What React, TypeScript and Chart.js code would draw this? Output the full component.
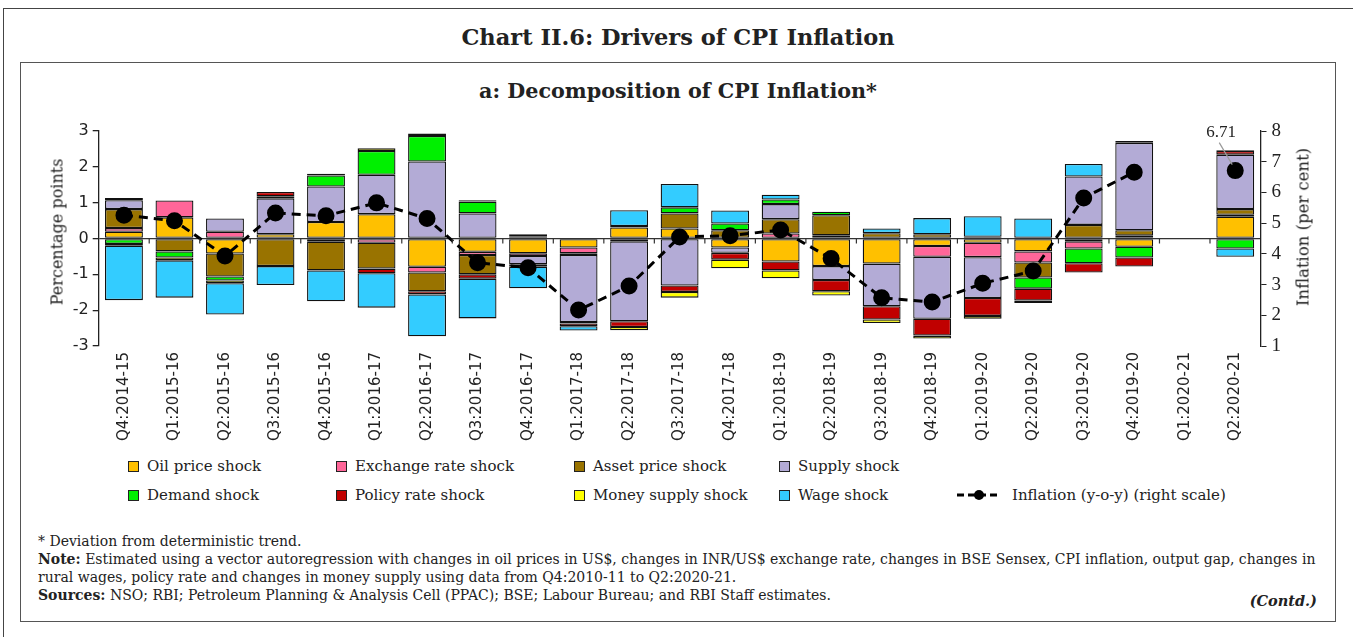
import React, { useEffect, useRef } from "react";
import { Chart, registerables } from "chart.js";

Chart.register(...registerables);

const categories = [
  "Q4:2014-15", "Q1:2015-16", "Q2:2015-16", "Q3:2015-16", "Q4:2015-16",
  "Q1:2016-17", "Q2:2016-17", "Q3:2016-17", "Q4:2016-17", "Q1:2017-18",
  "Q2:2017-18", "Q3:2017-18", "Q4:2017-18", "Q1:2018-19", "Q2:2018-19",
  "Q3:2018-19", "Q4:2018-19", "Q1:2019-20", "Q2:2019-20", "Q3:2019-20",
  "Q4:2019-20", "Q1:2020-21", "Q2:2020-21",
];

const oilShock = [0.19, 0.59, -0.42, 0.12, 0.46, 0.68, -0.79, -0.37, -0.41, -0.25, 0.31, 0.28, -0.25, -0.64, -0.77, -0.70, -0.21, -0.12, -0.36, -0.08, -0.23, null, 0.61];
const exchangeShock = [0.10, 0.47, 0.19, 0, -0.09, -0.12, -0.16, -0.09, -0.08, -0.16, -0.08, 0, 0, 0.14, 0.09, 0, -0.30, -0.40, -0.31, -0.20, 0.08, null, 0.05];
const assetShock = [0.53, -0.36, -0.64, -0.77, -0.80, -0.72, -0.52, -0.54, 0, -0.05, 0.04, 0.42, 0.23, 0.40, 0.56, 0.15, 0.12, 0.05, -0.42, 0.38, 0.15, null, 0.16];
const supplyShock = [0.25, 0, 0.37, 1.00, 0.99, 1.10, 2.15, 0.70, -0.23, -1.87, -2.23, -1.31, -0.15, 0.42, -0.39, -1.19, -1.73, -1.14, 0, 1.35, 2.44, null, 1.52];
const demandShock = [-0.15, -0.17, -0.11, 0.06, 0.31, 0.66, 0.71, 0.33, 0.06, -0.04, 0, 0.17, 0.19, 0.13, 0.10, 0, 0, 0, -0.31, -0.41, -0.30, null, -0.28];
const policyShock = [0.06, 0, 0, 0.12, 0, -0.13, -0.09, -0.12, -0.07, -0.08, -0.16, -0.18, -0.19, -0.25, -0.31, -0.37, -0.47, -0.50, -0.33, -0.26, -0.25, null, 0.10];
const moneyShock = [-0.05, -0.08, -0.08, 0, 0.05, 0.08, 0.07, 0.04, 0.06, 0, -0.09, -0.16, -0.24, -0.22, -0.12, -0.10, -0.08, -0.08, -0.07, 0, 0.05, null, 0.02];
const wageShock = [-1.52, -1.04, -0.87, -0.53, -0.86, -0.96, -1.17, -1.11, -0.60, -0.12, 0.44, 0.65, 0.36, 0.13, 0, 0.13, 0.45, 0.57, 0.56, 0.35, 0, null, -0.23];
const inflation = [5.26, 5.08, 3.93, 5.33, 5.24, 5.66, 5.15, 3.71, 3.55, 2.17, 2.95, 4.55, 4.59, 4.78, 3.85, 2.57, 2.43, 3.04, 3.44, 5.82, 6.66, null, 6.71];

const seriesLabels = [
  "Oil price shock", "Exchange rate shock", "Asset price shock", "Supply shock",
  "Demand shock", "Policy rate shock", "Money supply shock", "Wage shock",
];
const inflationLabel = "Inflation (y-o-y) (right scale)";
const leftTicks = [-3, -2, -1, 0, 1, 2, 3];
const rightTicks = [1, 2, 3, 4, 5, 6, 7, 8];

const seriesValues = [oilShock, exchangeShock, assetShock, supplyShock, demandShock, policyShock, moneyShock, wageShock];
const seriesColors = ["#FFC000", "#FF6699", "#997300", "#B3ABD6", "#00F000", "#C00000", "#FFFF00", "#33CCFF"];

const SERIF = "'DejaVu Serif', serif";

const boundaryTicks = {
  id: "boundaryTicks",
  afterDatasetsDraw(chart: any) {
    const xs = chart.scales.x;
    const ys = chart.scales.y;
    const y0 = ys.getPixelForValue(0);
    const ctx = chart.ctx;
    ctx.save();
    ctx.strokeStyle = "#333";
    ctx.lineWidth = 1.2;
    for (let i = 1; i < categories.length; i++) {
      const px = (xs.getPixelForValue(i - 1) + xs.getPixelForValue(i)) / 2;
      ctx.beginPath();
      ctx.moveTo(px, y0);
      ctx.lineTo(px, y0 + 5);
      ctx.stroke();
    }
    ctx.restore();
  },
};

const lastLabel = {
  id: "lastLabel",
  afterDatasetsDraw(chart: any) {
    const idx = chart.data.datasets.length - 1;
    const meta = chart.getDatasetMeta(idx);
    const last = inflation.length - 1;
    const pt = meta.data[last];
    if (!pt) return;
    const ctx = chart.ctx;
    ctx.save();
    ctx.strokeStyle = "#999";
    ctx.lineWidth = 1.2;
    ctx.beginPath();
    ctx.moveTo(pt.x - 16, pt.y - 28);
    ctx.lineTo(pt.x - 3, pt.y - 6);
    ctx.stroke();
    ctx.fillStyle = "#222";
    ctx.font = "17px 'Liberation Serif', serif";
    ctx.textAlign = "center";
    ctx.textBaseline = "middle";
    ctx.fillText(String(inflation[last]), pt.x - 14, pt.y - 38);
    ctx.restore();
  },
};

function ChartCanvas() {
  const ref = useRef<HTMLCanvasElement | null>(null);
  useEffect(() => {
    if (!ref.current) return;
    const barSets = seriesValues.map((vals, i) => ({
      type: "bar" as const,
      label: seriesLabels[i],
      data: vals.map((v) => (v === 0 ? null : v)),
      backgroundColor: seriesColors[i],
      borderColor: "#111",
      borderWidth: 1.3,
      borderSkipped: false,
      barPercentage: 0.75,
      categoryPercentage: 1,
      yAxisID: "y",
      order: 1,
    }));
    const lineSet = {
      type: "line" as const,
      label: inflationLabel,
      data: inflation,
      yAxisID: "y1",
      borderColor: "#000",
      backgroundColor: "#000",
      borderWidth: 3,
      borderDash: [9, 6],
      pointRadius: 7,
      pointHoverRadius: 7,
      pointBackgroundColor: "#000",
      pointBorderColor: "#000",
      spanGaps: false,
      tension: 0,
      order: 0,
    };
    const chart = new Chart(ref.current, {
      type: "bar",
      data: { labels: categories, datasets: [...barSets, lineSet] as any },
      options: {
        animation: false,
        responsive: false,
        maintainAspectRatio: false,
        layout: { padding: { top: 21, left: 0, right: 0, bottom: 0 } },
        plugins: { legend: { display: false }, tooltip: { enabled: false }, title: { display: false } },
        scales: {
          x: {
            stacked: true,
            grid: { display: false, drawTicks: false },
            border: { display: false },
            ticks: {
              autoSkip: false,
              minRotation: 90,
              maxRotation: 90,
              padding: 6,
              color: "#222",
              font: { family: "'DejaVu Sans', sans-serif", size: 15 },
            },
            afterFit(s: any) { s.height = 104; },
          },
          y: {
            stacked: true,
            position: "left",
            min: leftTicks[0],
            max: leftTicks[leftTicks.length - 1],
            afterBuildTicks(s: any) { s.ticks = leftTicks.map((v) => ({ value: v })); },
            ticks: { color: "#222", padding: 4, font: { family: "'DejaVu Sans', sans-serif", size: 16 } },
            grid: {
              color: (c: any) => (c.tick && c.tick.value === 0 ? "#333" : "rgba(0,0,0,0)"),
              lineWidth: 1.3,
              tickColor: "#222",
              tickLength: 6,
              drawTicks: true,
            },
            border: { display: true, color: "#222", width: 1.3 },
            afterFit(s: any) { s.width = 78.7; },
          },
          y1: {
            position: "right",
            stacked: false,
            min: rightTicks[0],
            max: rightTicks[rightTicks.length - 1],
            afterBuildTicks(s: any) { s.ticks = rightTicks.map((v) => ({ value: v })); },
            ticks: { color: "#222", padding: 5, font: { family: "'Liberation Serif', serif", size: 19 } },
            grid: { drawOnChartArea: false, tickColor: "#222", tickLength: 6, drawTicks: true },
            border: { display: true, color: "#222", width: 1.3 },
            afterFit(s: any) { s.width = 59.5; },
          },
        },
      } as any,
      plugins: [boundaryTicks, lastLabel],
    });
    return () => chart.destroy();
  }, []);
  return <canvas ref={ref} width={1300} height={340} style={{ position: "absolute", left: 20, top: 110, width: 1300, height: 340 }} />;
}

function LegendBox({ color, x, y, label }: { color: string; x: number; y: number; label: string }) {
  return (
    <div style={{ position: "absolute", left: x, top: y - 10, height: 20, display: "flex", alignItems: "center", whiteSpace: "nowrap" }}>
      <div style={{ width: 9, height: 9, background: color, border: "1px solid #222", marginRight: 8 }} />
      <span style={{ fontFamily: SERIF, fontSize: 15, color: "#222" }}>{label}</span>
    </div>
  );
}

export default function App() {
  const colX = [128, 336, 574, 779];
  const rowY = [466, 495];
  return (
    <div style={{ position: "absolute", left: 0, top: 0, width: 1353, height: 637, background: "#fff", overflow: "hidden" }}>
      <div style={{ position: "absolute", left: 3, top: 8, width: 1400, height: 700, border: "1.5px solid #444" }} />
      <div style={{ position: "absolute", left: 0, top: 21, width: 1356, textAlign: "center", fontFamily: SERIF, fontWeight: "bold", fontSize: 22.5, color: "#222", lineHeight: "32px" }}>
        Chart II.6: Drivers of CPI Inflation
      </div>
      <div style={{ position: "absolute", left: 20, top: 62, width: 1314, height: 558, border: "1.5px solid #555" }} />
      <div style={{ position: "absolute", left: 0, top: 77, width: 1356, textAlign: "center", fontFamily: SERIF, fontWeight: "bold", fontSize: 20.7, color: "#222", lineHeight: "28px" }}>
        a: Decomposition of CPI Inflation*
      </div>
      <ChartCanvas />
      <div style={{ position: "absolute", left: 57, top: 232, transform: "translate(-50%, -50%) rotate(-90deg)", whiteSpace: "nowrap", fontFamily: SERIF, fontSize: 16, color: "#222" }}>
        Percentage points
      </div>
      <div style={{ position: "absolute", left: 1303, top: 227, transform: "translate(-50%, -50%) rotate(-90deg)", whiteSpace: "nowrap", fontFamily: SERIF, fontSize: 16.5, color: "#222" }}>
        Inflation (per cent)
      </div>
      {seriesLabels.map((lab, i) => (
        <LegendBox key={lab} label={lab} color={seriesColors[i]} x={colX[i % 4]} y={rowY[Math.floor(i / 4)]} />
      ))}
      <div style={{ position: "absolute", left: 956, top: rowY[1] - 10, height: 20, display: "flex", alignItems: "center", whiteSpace: "nowrap" }}>
        <svg width={46} height={12} style={{ marginRight: 10 }}>
          <line x1={1} y1={6} x2={45} y2={6} stroke="#000" strokeWidth={3} strokeDasharray="7,4" />
          <circle cx={23} cy={6} r={5} fill="#000" />
        </svg>
        <span style={{ fontFamily: SERIF, fontSize: 15, color: "#222" }}>{inflationLabel}</span>
      </div>
      <div style={{ position: "absolute", left: 38, top: 532, fontFamily: SERIF, fontSize: 14, color: "#222", lineHeight: "18px", whiteSpace: "nowrap" }}>
        <div>* Deviation from deterministic trend.</div>
        <div><b>Note:</b> Estimated using a vector autoregression with changes in oil prices in US$, changes in INR/US$ exchange rate, changes in BSE Sensex, CPI inflation, output gap, changes in</div>
        <div>rural wages, policy rate and changes in money supply using data from Q4:2010-11 to Q2:2020-21.</div>
        <div><b>Sources:</b> NSO; RBI; Petroleum Planning &amp; Analysis Cell (PPAC); BSE; Labour Bureau; and RBI Staff estimates.</div>
      </div>
      <div style={{ position: "absolute", right: 1353 - 1317, top: 592, fontFamily: SERIF, fontSize: 14.5, fontWeight: "bold", fontStyle: "italic", color: "#222" }}>
        (Contd.)
      </div>
    </div>
  );
}
